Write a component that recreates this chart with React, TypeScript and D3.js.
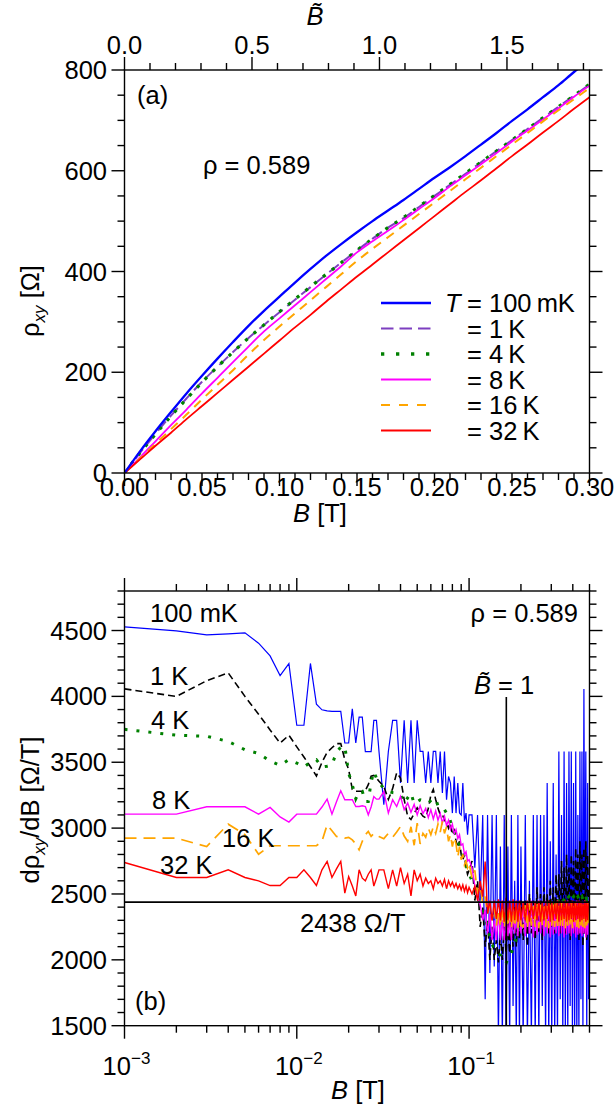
import React from "react";
import * as d3 from "d3";

const FONT = '"Liberation Sans", Arial, Helvetica, sans-serif';

// ---------- panel (a): Hall resistivity rho_xy versus field ----------
const fieldA = [
  0, 0.01, 0.02, 0.03, 0.04, 0.05, 0.06, 0.07, 0.08, 0.09, 0.1, 0.11, 0.12, 0.13, 0.14, 0.15,
  0.16, 0.17, 0.18, 0.19, 0.2, 0.21, 0.22, 0.23, 0.24, 0.25, 0.26, 0.27, 0.28, 0.29, 0.3,
];
const rhoA_100mK = [
  0, 43, 83, 121, 158, 193, 227, 260, 292, 322, 350, 378, 405, 431, 455, 478,
  500, 521, 542, 564, 586, 607, 629, 652, 675, 699, 722, 746, 770, 796, 820,
];
const rhoA_1K = [
  0, 40, 78, 114, 148, 181, 211, 240, 268, 294, 319, 344, 369, 394, 418, 442,
  465, 487, 506, 528, 550, 572, 594, 617, 639, 661, 683, 705, 727, 749, 771,
];
const rhoA_4K = [
  0, 40, 77, 113, 147, 180, 211, 240, 268, 294, 320, 345, 370, 394, 418, 442,
  465, 487, 507, 529, 551, 573, 595, 617, 639, 661, 683, 705, 727, 749, 772,
];
const rhoA_8K = [
  0, 31, 63, 95, 126, 158, 189, 220, 251, 281, 307, 333, 359, 385, 411, 438,
  460, 481, 502, 524, 546, 569, 591, 613, 635, 658, 680, 702, 724, 747, 769,
];
const rhoA_16K = [
  0, 29, 58, 87, 116, 146, 175, 204, 235, 264, 291, 317, 343, 369, 395, 421,
  445, 468, 491, 514, 537, 560, 583, 606, 629, 652, 675, 698, 720, 742, 764,
];
const rhoA_32K = [
  0, 27, 54, 80, 107, 133, 159, 185, 211, 237, 263, 289, 314, 340, 365, 390,
  414, 438, 462, 486, 510, 534, 558, 581, 605, 629, 652, 676, 699, 723, 746,
];

// ---------- panel (b): differential Hall slope d rho_xy / dB ----------
// field in mT
const fieldB_mT = [
  1, 2, 3, 4, 5, 6, 7, 8, 9, 10, 11, 12, 13, 14, 15, 16, 17, 18, 19, 20, 21, 22, 23, 24, 25, 26, 27, 28, 29, 30,
  32, 34, 36, 38, 40, 42, 44, 46, 48, 50, 52, 54, 56, 58, 60, 62, 64, 66, 68, 70,
  72, 74, 76, 78, 80, 82, 84, 86, 88, 90, 92, 94, 96, 98, 100,
  104, 108, 112, 116, 120, 124, 128, 132, 136, 140, 144, 148, 152, 156, 160, 164, 168, 172, 176, 180,
  184, 188, 192, 196, 200,
  206, 212, 218, 224, 230, 236, 242, 248, 254, 260, 266, 272, 278, 284, 290, 296, 302, 308, 314, 320,
  326, 332, 338, 344, 350, 356, 362, 368, 374, 380, 386, 392, 398, 404, 410, 416, 422, 428, 434, 440,
  446, 452, 458, 464, 470, 476, 482, 488, 494,
];
const slope_100mK = [
  4528, 4497, 4467, 4475, 4482, 4404, 4307, 4158, 4249, 3781, 3781, 4250, 3941, 3898, 3890, 3886, 3886, 3886, 3646, 3646,
  3905, 3646, 3842, 3842, 3580, 3580, 3580, 3818, 3818, 3582,
  3177, 3582, 3818, 3818, 3342, 3818, 3342, 3818, 3342, 3818, 3582, 3582, 3342, 3582, 3342, 3582, 3582, 3342, 3582, 3266,
  3582, 3215, 3392, 3342, 3114, 3392, 3114, 3342, 3114, 3100, 3342, 3050, 3114, 2950, 3100,
  3100, 2700, 3100, 2450, 3100, 1700, 3100, 1900, 3100, 1950, 3100, 1400, 2860, 1400, 3100, 1400, 2860, 1400, 3100, 1650,
  2600, 1400, 3100, 1400, 2860,
  1400, 3100, 1400, 2600, 1400, 3100, 1400, 3100, 1400, 3100, 1650, 3100, 1400, 3342, 1400, 2900, 1400, 3342, 1400, 2800,
  1400, 3582, 1700, 3100, 1400, 3582, 1400, 3342, 1400, 3582, 1650, 3582, 1400, 3342, 1400, 3582, 1400, 3100, 1400, 3582,
  1700, 3582, 1400, 4056, 2200, 3582, 1400, 3342, 1700,
];
const slope_1K = [
  4057, 4000, 4119, 4178, 4000, 3865, 3745, 3646, 3705, 3617, 3540, 3466, 3396, 3500, 3575, 3610, 3641, 3641, 3520, 3446,
  3293, 3280, 3280, 3280, 3285, 3330, 3394, 3400, 3380, 3356,
  3318, 3217, 3300, 3420, 3380, 3217, 3090, 3065, 3110, 3154, 3120, 3090, 3078, 3150, 3250, 3293, 3217, 3150, 3103, 3103,
  3060, 3040, 3000, 3040, 2950, 2980, 2900, 2860, 2900, 2800, 2760, 2800, 2700, 2650, 2680,
  2750, 2450, 2600, 2250, 2400, 2100, 2300, 2000, 2250, 2000, 2150, 1980, 2200, 2000, 2250, 2050, 2300, 2050, 2350, 2100,
  2400, 2100, 2300, 2150, 2450,
  2150, 2450, 2100, 2500, 2200, 2450, 2150, 2550, 2200, 2500, 2150, 2550, 2250, 2500, 2200, 2600, 2250, 2550, 2200, 2650,
  2300, 2650, 2200, 2750, 2250, 2700, 2200, 2800, 2300, 2700, 2150, 2800, 2250, 2750, 2200, 2850, 2300, 2800, 2150, 2900,
  2250, 2800, 2100, 2850, 2200, 2900, 2150, 2800, 2300,
];
const slope_4K = [
  3750, 3705, 3697, 3658, 3595, 3567, 3509, 3476, 3520, 3494, 3464, 3500, 3519, 3464, 3470, 3481, 3575, 3616, 3620, 3418,
  3329, 3223, 3279, 3279, 3202, 3202, 3350, 3430, 3380, 3347,
  3300, 3279, 3270, 3266, 3253, 3190, 3230, 3266, 3185, 3200, 3215, 3210, 3202, 3190, 3210, 3228, 3220, 3170, 3150, 3152,
  3140, 3114, 3100, 3050, 3010, 2980, 2950, 2900, 2870, 2850, 2800, 2770, 2720, 2680, 2650,
  2600, 2560, 2480, 2420, 2380, 2330, 2250, 2180, 2120, 2080, 2060, 2040, 2037, 2000, 1980, 1974, 2010, 2040, 2050, 2090,
  2130, 2160, 2200, 2230, 2260,
  2280, 2300, 2320, 2300, 2340, 2360, 2340, 2380, 2360, 2400, 2380, 2400, 2420, 2400, 2430, 2410, 2440, 2420, 2450, 2430,
  2460, 2440, 2450, 2470, 2440, 2460, 2480, 2450, 2470, 2480, 2460, 2490, 2470, 2480, 2460, 2490, 2470, 2480, 2460, 2490,
  2470, 2480, 2460, 2490, 2470, 2480, 2460, 2480, 2470,
];
const slope_8K = [
  3106, 3106, 3162, 3162, 3162, 3106, 3157, 3085, 3046, 3106, 3106, 3106, 3106, 3160, 3220, 3106, 3200, 3283, 3215, 3215,
  3215, 3164, 3164, 3170, 3164, 3101, 3160, 3240, 3220, 3220,
  3278, 3114, 3215, 3164, 3240, 3140, 3190, 3120, 3180, 3100, 3170, 3110, 3150, 3080, 3140, 3070, 3130, 3060, 3110, 3040,
  3090, 3020, 3060, 2990, 3030, 2960, 2990, 2920, 2950, 2870, 2880, 2800, 2820, 2750, 2760,
  2700, 2560, 2480, 2420, 2300, 2380, 2200, 2350, 2150, 2300, 2150, 2350, 2150, 2300, 2150, 2350, 2180, 2300, 2150, 2350,
  2200, 2380, 2180, 2400, 2200,
  2440, 2180, 2420, 2200, 2450, 2170, 2400, 2190, 2440, 2200, 2420, 2180, 2450, 2200, 2430, 2170, 2440, 2190, 2420, 2200,
  2450, 2180, 2430, 2200, 2440, 2170, 2420, 2190, 2450, 2200, 2430, 2180, 2440, 2200, 2420, 2170, 2450, 2190, 2430, 2200,
  2440, 2180, 2420, 2200, 2450, 2170, 2430, 2190, 2440,
];
const slope_16K = [
  2924, 2924, 2860, 3030, 2950, 2802, 2866, 2866, 2866, 2866, 2866, 2866, 2866, 2900, 3025, 2980, 2937, 2930, 2924, 2930,
  2911, 2880, 2835, 2900, 2950, 2974, 2937, 2960, 2950, 2937,
  2920, 2960, 2930, 2970, 3012, 2940, 2900, 3010, 2870, 3038, 2880, 2960, 2930, 3000, 2950, 3010, 2960, 3030, 2970, 3050,
  2960, 3010, 2900, 2950, 2860, 2930, 2880, 2780, 2860, 2760, 2800, 2720, 2750, 2700, 2734,
  2620, 2680, 2500, 2560, 2430, 2480, 2350, 2420, 2300, 2400, 2260, 2380, 2250, 2400, 2240, 2380, 2250, 2400, 2240, 2380,
  2250, 2400, 2240, 2420, 2260,
  2250, 2420, 2240, 2430, 2260, 2410, 2250, 2440, 2240, 2420, 2260, 2430, 2250, 2410, 2240, 2440, 2260, 2420, 2250, 2430,
  2240, 2410, 2260, 2440, 2250, 2420, 2240, 2430, 2260, 2410, 2250, 2440, 2240, 2420, 2260, 2430, 2250, 2410, 2240, 2440,
  2260, 2420, 2250, 2430, 2240, 2410, 2260, 2440, 2250,
];
const slope_32K = [
  2739, 2625, 2625, 2683, 2625, 2600, 2564, 2564, 2625, 2625, 2683, 2625, 2564, 2683, 2747, 2625, 2690, 2747, 2506, 2632,
  2560, 2485, 2683, 2620, 2600, 2650, 2683, 2560, 2620, 2683,
  2683, 2540, 2683, 2560, 2700, 2580, 2650, 2485, 2683, 2600, 2650, 2560, 2620, 2580, 2600, 2540, 2620, 2580, 2600, 2560,
  2610, 2540, 2600, 2560, 2590, 2550, 2580, 2540, 2570, 2530, 2570, 2520, 2560, 2510, 2550,
  2500, 2560, 2450, 2600, 2480, 2747, 2350, 2450, 2300, 2450, 2310, 2460, 2300, 2450, 2290, 2470, 2300, 2450, 2290, 2460,
  2300, 2450, 2290, 2450, 2300,
  2440, 2300, 2450, 2290, 2430, 2310, 2440, 2300, 2450, 2290, 2440, 2300, 2430, 2310, 2450, 2290, 2440, 2300, 2430, 2310,
  2450, 2290, 2440, 2300, 2430, 2310, 2450, 2290, 2440, 2300, 2430, 2310, 2450, 2290, 2440, 2300, 2430, 2310, 2450, 2290,
  2440, 2300, 2430, 2310, 2450, 2290, 2440, 2300, 2430,
];

const legendLabels = ["= 100\u2009mK", "= 1\u2009K", "= 4\u2009K", "= 8\u2009K", "= 16\u2009K", "= 32\u2009K"];
const curveLabelsB = ["100 mK", "1 K", "4 K", "8 K", "16 K", "32 K"];
const fillingText = "\u03c1 = 0.589";
const quantumSlope = 2438; // Ω/T, reference slope line
const fieldAtBTildeOne = 0.1645; // T
const yTicksA = [0, 200, 400, 600, 800];
const xTicksA = [0, 0.05, 0.1, 0.15, 0.2, 0.25, 0.3];
const topTicksA = [0, 0.5, 1.0, 1.5];
const yTicksB = [1500, 2000, 2500, 3000, 3500, 4000, 4500];
const decadesB = [-3, -2, -1];

const PA = { left: 124.5, right: 589.5, top: 70, bottom: 473 };
const PB = { left: 124.5, right: 589.5, top: 591, bottom: 1025.7 };
const MAJ = 13;
const MIN = 7;

export default function App() {
  const xA = d3.scaleLinear().domain([0, 0.3]).range([PA.left, PA.right]);
  const xAt = d3.scaleLinear().domain([0, 0.3 / fieldAtBTildeOne]).range([PA.left, PA.right]);
  const yA = d3.scaleLinear().domain([0, 800]).range([PA.bottom, PA.top]);
  const xB = d3.scaleLog().domain([0.001, 0.5]).range([PB.left, PB.right]);
  const yB = d3.scaleLinear().domain([1500, 4800]).range([PB.bottom, PB.top]);

  const lineA = d3
    .line<[number, number]>()
    .x((d) => xA(d[0]))
    .y((d) => yA(d[1]))
    .curve(d3.curveMonotoneX);
  const lineB = d3
    .line<[number, number]>()
    .x((d) => xB(d[0]))
    .y((d) => yB(d[1]));

  const seriesA = [
    { v: rhoA_1K, color: "#7d3fc0", w: 2, dash: "12,6" },
    { v: rhoA_4K, color: "#008000", w: 3.2, dash: "3.2,8" },
    { v: rhoA_8K, color: "#ff00ff", w: 1.8, dash: undefined },
    { v: rhoA_16K, color: "#ffa500", w: 2, dash: "9,7" },
    { v: rhoA_32K, color: "#ff0000", w: 1.8, dash: undefined },
    { v: rhoA_100mK, color: "#0000ff", w: 2.3, dash: undefined },
  ];
  const legendA = [
    { color: "#0000ff", w: 2.3, dash: undefined },
    { color: "#7d3fc0", w: 2, dash: "12.5,6" },
    { color: "#008000", w: 3.3, dash: "3.3,11.7" },
    { color: "#ff00ff", w: 1.8, dash: undefined },
    { color: "#ffa500", w: 2, dash: "9,9" },
    { color: "#ff0000", w: 1.8, dash: undefined },
  ];
  const seriesB = [
    { v: slope_100mK, color: "#0000ff", w: 1.2, dash: undefined },
    { v: slope_1K, color: "#000000", w: 1.6, dash: "7,4" },
    { v: slope_4K, color: "#008000", w: 3, dash: "3,9" },
    { v: slope_8K, color: "#ff00ff", w: 1.4, dash: undefined },
    { v: slope_16K, color: "#ffa500", w: 1.7, dash: "12,7" },
    { v: slope_32K, color: "#ff0000", w: 1.4, dash: undefined },
  ];
  const labelPosB = [
    [150, 622],
    [150, 685],
    [151, 729],
    [152, 809],
    [222, 847],
    [160, 874],
  ];

  const textStyle = { fontFamily: FONT, fontSize: 25.5, fill: "#000" } as const;

  // tick marks
  const minorA = d3.range(0, 0.3001, 0.01);
  const minorAy = d3.range(0, 801, 50);
  const minorAt = d3.range(0, 1.81, 0.1);
  const minorBy = d3.range(1500, 4801, 100);
  const logTicks: { v: number; major: boolean }[] = [];
  decadesB.forEach((d) => {
    for (let m = 1; m <= 9; m++) {
      const v = m * Math.pow(10, d);
      if (v <= 0.5 + 1e-9) logTicks.push({ v, major: m === 1 });
    }
  });
  const isMult = (v: number, step: number) => Math.abs(v / step - Math.round(v / step)) < 1e-6;

  const ptsA = (v: number[]) => fieldA.map((b, i) => [b, v[i]] as [number, number]);
  const ptsB = (v: number[]) => fieldB_mT.map((m, i) => [m / 1000, v[i]] as [number, number]);

  const stroke = { stroke: "#000", strokeWidth: 1.4 };

  return (
    <svg
      width={614}
      height={1108}
      viewBox="0 0 614 1108"
      style={{ position: "absolute", left: 0, top: 0, background: "#fff" }}
    >
      <defs>
        <clipPath id="clipA">
          <rect x={PA.left} y={PA.top} width={PA.right - PA.left} height={PA.bottom - PA.top} />
        </clipPath>
        <clipPath id="clipB">
          <rect x={PB.left} y={PB.top} width={PB.right - PB.left} height={PB.bottom - PB.top} />
        </clipPath>
      </defs>
      <rect x={0} y={0} width={614} height={1108} fill="#fff" />

      {/* ===== panel (a) ===== */}
      <g clipPath="url(#clipA)">
        {seriesA.map((s, i) => (
          <path
            key={i}
            d={lineA(ptsA(s.v)) || ""}
            fill="none"
            stroke={s.color}
            strokeWidth={s.w}
            strokeDasharray={s.dash}
            strokeLinejoin="round"
          />
        ))}
      </g>
      <rect
        x={PA.left}
        y={PA.top}
        width={PA.right - PA.left}
        height={PA.bottom - PA.top}
        fill="none"
        {...stroke}
      />
      {minorA.map((v, i) => {
        const major = isMult(v, 0.05);
        const x = xA(v);
        return <line key={"ab" + i} x1={x} x2={x} y1={PA.bottom} y2={PA.bottom + (major ? MAJ : MIN)} {...stroke} />;
      })}
      {minorAy.map((v, i) => {
        const major = isMult(v, 200);
        const y = yA(v);
        const l = major ? MAJ : MIN;
        return (
          <g key={"ay" + i}>
            <line x1={PA.left - l} x2={PA.left} y1={y} y2={y} {...stroke} />
            <line x1={PA.right} x2={PA.right + l} y1={y} y2={y} {...stroke} />
          </g>
        );
      })}
      {minorAt.map((v, i) => {
        const major = isMult(v, 0.5);
        const x = xAt(v);
        return <line key={"at" + i} x1={x} x2={x} y1={PA.top} y2={PA.top - (major ? MAJ : MIN)} {...stroke} />;
      })}
      {xTicksA.map((v) => (
        <text key={"xl" + v} x={xA(v)} y={496} textAnchor="middle" {...textStyle}>
          {v.toFixed(2)}
        </text>
      ))}
      {yTicksA.map((v) => (
        <text key={"yl" + v} x={107} y={yA(v) + 9} textAnchor="end" {...textStyle}>
          {v}
        </text>
      ))}
      {topTicksA.map((v) => (
        <text key={"tl" + v} x={xAt(v)} y={54} textAnchor="middle" {...textStyle}>
          {v.toFixed(1)}
        </text>
      ))}
      <text x={315} y={25} textAnchor="middle" {...textStyle}>
        <tspan fontStyle="italic">{"B\u0303"}</tspan>
      </text>
      <text x={320} y={522} textAnchor="middle" {...textStyle}>
        <tspan fontStyle="italic">B</tspan>
        <tspan> [T]</tspan>
      </text>
      <text transform="translate(39,301) rotate(-90)" textAnchor="middle" {...textStyle}>
        <tspan>{"\u03c1"}</tspan>
        <tspan fontStyle="italic" fontSize={17} dy={6}>
          xy
        </tspan>
        <tspan dy={-6}> [Ω]</tspan>
      </text>
      <text x={137} y={104} {...textStyle}>
        (a)
      </text>
      <text x={203} y={174} {...textStyle}>
        {fillingText}
      </text>
      {legendA.map((s, i) => {
        const y = 303 + i * 25.5;
        return (
          <g key={"lg" + i}>
            <line x1={381} x2={431} y1={y} y2={y} stroke={s.color} strokeWidth={s.w} strokeDasharray={s.dash} />
            <text x={467} y={y + 9} {...textStyle}>
              {legendLabels[i]}
            </text>
          </g>
        );
      })}
      <text x={445} y={303 + 9} fontStyle="italic" {...textStyle}>
        T
      </text>

      {/* ===== panel (b) ===== */}
      <g clipPath="url(#clipB)">
        {seriesB.map((s, i) => (
          <path
            key={i}
            d={lineB(ptsB(s.v)) || ""}
            fill="none"
            stroke={s.color}
            strokeWidth={s.w}
            strokeDasharray={s.dash}
            strokeLinejoin="miter"
          />
        ))}
        <line x1={PB.left} x2={PB.right} y1={yB(quantumSlope)} y2={yB(quantumSlope)} stroke="#000" strokeWidth={1.6} />
        <line
          x1={xB(fieldAtBTildeOne)}
          x2={xB(fieldAtBTildeOne)}
          y1={697}
          y2={PB.bottom}
          stroke="#000"
          strokeWidth={1.6}
        />
      </g>
      <rect
        x={PB.left}
        y={PB.top}
        width={PB.right - PB.left}
        height={PB.bottom - PB.top}
        fill="none"
        {...stroke}
      />
      {logTicks.map((t, i) => {
        const x = xB(t.v);
        const l = t.major ? MAJ : MIN;
        return (
          <g key={"bx" + i}>
            <line x1={x} x2={x} y1={PB.bottom} y2={PB.bottom + l} {...stroke} />
            <line x1={x} x2={x} y1={PB.top} y2={PB.top - l} {...stroke} />
          </g>
        );
      })}
      {minorBy.map((v, i) => {
        const major = isMult(v, 500);
        const y = yB(v);
        const l = major ? MAJ : MIN;
        return (
          <g key={"by" + i}>
            <line x1={PB.left - l} x2={PB.left} y1={y} y2={y} {...stroke} />
            <line x1={PB.right} x2={PB.right + l} y1={y} y2={y} {...stroke} />
          </g>
        );
      })}
      {yTicksB.map((v) => (
        <text key={"ybl" + v} x={107} y={yB(v) + 9} textAnchor="end" {...textStyle}>
          {v}
        </text>
      ))}
      {decadesB.map((d) => (
        <text key={"xbl" + d} x={xB(Math.pow(10, d)) + 2} y={1075} textAnchor="middle" {...textStyle}>
          <tspan>10</tspan>
          <tspan fontSize={17} dy={-11}>
            {"\u2212" + Math.abs(d)}
          </tspan>
        </text>
      ))}
      <text x={358} y={1099} textAnchor="middle" {...textStyle}>
        <tspan fontStyle="italic">B</tspan>
        <tspan> [T]</tspan>
      </text>
      <text transform="translate(39,810) rotate(-90)" textAnchor="middle" {...textStyle}>
        <tspan>{"d\u03c1"}</tspan>
        <tspan fontStyle="italic" fontSize={17} dy={6}>
          xy
        </tspan>
        <tspan dy={-6}>/dB [Ω/T]</tspan>
      </text>
      {curveLabelsB.map((t, i) => (
        <text key={"cl" + i} x={labelPosB[i][0]} y={labelPosB[i][1]} {...textStyle}>
          {t}
        </text>
      ))}
      <text x={578} y={622} textAnchor="end" {...textStyle}>
        {fillingText}
      </text>
      <text x={474} y={694} {...textStyle}>
        <tspan fontStyle="italic">{"B\u0303"}</tspan>
        <tspan> = 1</tspan>
      </text>
      <text x={300} y={932} {...textStyle}>
        {quantumSlope} Ω/T
      </text>
      <text x={135} y={1010} {...textStyle}>
        (b)
      </text>
    </svg>
  );
}
